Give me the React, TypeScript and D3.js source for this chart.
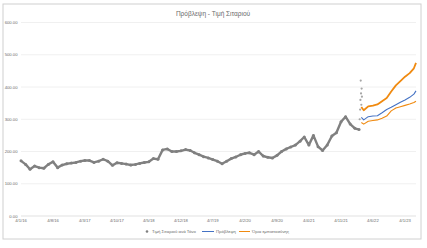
import React from "react";
import * as d3 from "d3";

const W = 427;
const H = 248;

const title = "Πρόβλεψη - Τιμή Σιταριού";
const seriesNames = ["Τιμή Σιταριού ανά Τόνο", "Πρόβλεψη", "Όρια εμπιστοσύνης"];

const yTicks = [0, 100, 200, 300, 400, 500, 600];
const xTickDates = [
  "2016-01-04", "2016-08-04", "2017-03-04", "2017-10-04", "2018-05-04", "2018-12-04",
  "2019-07-04", "2020-02-04", "2020-09-04", "2021-04-04", "2021-11-04", "2022-06-04", "2023-01-04",
];

const histDates = [
  "2016-01-04","2016-02-04","2016-03-04","2016-04-04","2016-05-04","2016-06-04","2016-07-04","2016-08-04","2016-09-04","2016-10-04","2016-11-04","2016-12-04",
  "2017-01-04","2017-02-04","2017-03-04","2017-04-04","2017-05-04","2017-06-04","2017-07-04","2017-08-04","2017-09-04","2017-10-04","2017-11-04","2017-12-04",
  "2018-01-04","2018-02-04","2018-03-04","2018-04-04","2018-05-04","2018-06-04","2018-07-04","2018-08-04","2018-09-04","2018-10-04","2018-11-04","2018-12-04",
  "2019-01-04","2019-02-04","2019-03-04","2019-04-04","2019-05-04","2019-06-04","2019-07-04","2019-08-04","2019-09-04","2019-10-04","2019-11-04","2019-12-04",
  "2020-01-04","2020-02-04","2020-03-04","2020-04-04","2020-05-04","2020-06-04","2020-07-04","2020-08-04","2020-09-04","2020-10-04","2020-11-04","2020-12-04",
  "2021-01-04","2021-02-04","2021-03-04","2021-04-04","2021-05-04","2021-06-04","2021-07-04","2021-08-04","2021-09-04","2021-10-04","2021-11-04","2021-12-04",
  "2022-01-04","2022-02-04","2022-03-04",
];
const histValues = [
  171,160,145,155,150,148,160,168,150,158,162,164,
  166,170,172,172,166,170,176,170,157,165,163,161,
  158,160,163,166,168,178,176,205,208,200,200,202,
  206,203,196,190,184,180,175,170,162,170,178,183,
  190,194,196,190,200,186,182,180,188,200,208,214,
  220,232,245,220,250,215,203,220,248,258,292,308,
  285,272,268,
];

const spikeDates = ["2022-03-08","2022-03-11","2022-03-13","2022-03-15","2022-03-17","2022-03-19","2022-03-21","2022-03-23"];
const spikeValues = [300, 330, 360, 420, 380, 345, 395, 370];

const fcDates = [
  "2022-03-19","2022-04-04","2022-05-04","2022-06-04","2022-07-04","2022-08-04","2022-09-04",
  "2022-10-04","2022-11-04","2022-12-04","2023-01-04","2023-02-04","2023-03-04","2023-03-18",
];
const fcValues = [306, 298, 308, 310, 311, 320, 330, 337, 345, 353, 360, 368, 378, 388];
const fcUpper = [338, 328, 340, 342, 346, 356, 366, 386, 405, 418, 432, 443, 458, 475];
const fcLower = [290, 285, 294, 296, 298, 303, 310, 326, 335, 339, 343, 347, 352, 356];

const parse = d3.utcParse("%Y-%m-%d");
const fmt = (d: Date) => `${d.getUTCDate()}/${d.getUTCMonth() + 1}/${String(d.getUTCFullYear()).slice(2)}`;

const GRAY = "#808080";
const BLUE = "#4472C4";
const ORANGE = "#F08A10";
const TXT = "#6a6a6a";
const FONT = "'Liberation Sans', Arial, sans-serif";

export default function App() {
  const x = d3.scaleUtc().domain([parse("2016-01-04")!, parse("2023-03-18")!]).range([21, 416]);
  const y = d3.scaleLinear().domain([0, 600]).range([216, 22.5]);

  const line = d3.line<[string, number]>().x((d) => x(parse(d[0])!)).y((d) => y(d[1]));
  const hist = histDates.map((d, i) => [d, histValues[i]] as [string, number]);
  const fc = fcDates.map((d, i) => [d, fcValues[i]] as [string, number]);
  const up = fcDates.map((d, i) => [d, fcUpper[i]] as [string, number]);
  const lo = fcDates.map((d, i) => [d, fcLower[i]] as [string, number]);

  return (
    <svg width={W} height={H} style={{ position: "fixed", left: 0, top: 0, background: "#fff" }} fontFamily={FONT}>
      <rect x={0} y={0} width={W} height={H} fill="#fff" />
      <rect x={3} y={4} width={418} height={235} fill="#fff" stroke="#d0d0d0" strokeWidth={1} />
      <text x={213} y={16} textAnchor="middle" fontSize={6.5} fill={TXT}>{title}</text>
      {yTicks.map((t) => (
        <g key={t}>
          <line x1={21} x2={416} y1={y(t)} y2={y(t)} stroke={t === 0 ? "#d9d9d9" : "#ececec"} strokeWidth={0.8} />
          <text x={17.5} y={y(t) + 1.5} textAnchor="end" fontSize={4.2} fill={TXT}>{t.toFixed(2)}</text>
        </g>
      ))}
      {xTickDates.map((s) => {
        const d = parse(s)!;
        return (
          <text key={s} x={x(d)} y={222} textAnchor="middle" fontSize={4.2} fill={TXT}>{fmt(d)}</text>
        );
      })}
      <path d={line(hist)!} fill="none" stroke={GRAY} strokeWidth={2.4} strokeLinejoin="round" />
      {hist.map((d, i) => (
        <circle key={i} cx={x(parse(d[0])!)} cy={y(d[1])} r={1.5} fill={GRAY} />
      ))}
      {spikeDates.map((s, i) => (
        <circle key={s} cx={x(parse(s)!)} cy={y(spikeValues[i])} r={1.1} fill="#a6a6a6" />
      ))}
      <path d={line(up)!} fill="none" stroke={ORANGE} strokeWidth={1.8} strokeLinejoin="round" />
      <path d={line(fc)!} fill="none" stroke={BLUE} strokeWidth={1.1} strokeLinejoin="round" />
      <path d={line(lo)!} fill="none" stroke={ORANGE} strokeWidth={1.1} strokeLinejoin="round" />
      <g fontSize={4.3} fill={TXT}>
        <circle cx={147} cy={231.5} r={1.3} fill={GRAY} />
        <text x={152} y={233}>{seriesNames[0]}</text>
        <line x1={202} x2={214} y1={231.5} y2={231.5} stroke={BLUE} strokeWidth={1} />
        <text x={216} y={233}>{seriesNames[1]}</text>
        <line x1={239} x2={250} y1={231.5} y2={231.5} stroke={ORANGE} strokeWidth={1} />
        <text x={252} y={233}>{seriesNames[2]}</text>
      </g>
    </svg>
  );
}
